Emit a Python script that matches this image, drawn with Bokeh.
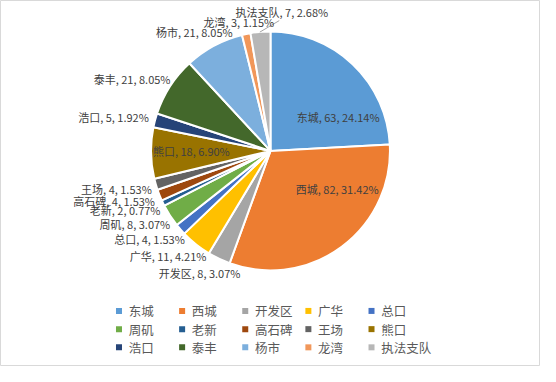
import math
from bokeh.plotting import figure
from bokeh.models import Range1d, ColumnDataSource
from bokeh.core.properties import value
from bokeh.embed import file_html
from bokeh.resources import INLINE

# ---- data ----
categories = ["东城", "西城", "开发区", "广华", "总口", "周矶", "老新", "高石碑",
              "王场", "熊口", "浩口", "泰丰", "杨市", "龙湾", "执法支队"]
counts = [63, 82, 8, 11, 4, 8, 2, 4, 4, 18, 5, 21, 21, 3, 7]
percents = ["24.14%", "31.42%", "3.07%", "4.21%", "1.53%", "3.07%", "0.77%", "1.53%",
            "1.53%", "6.90%", "1.92%", "8.05%", "8.05%", "1.15%", "2.68%"]
colors = ["#5B9BD5", "#ED7D31", "#A5A5A5", "#FFC000", "#4472C4", "#70AD47", "#255E91",
          "#9E480E", "#636363", "#997300", "#264478", "#43682B", "#7CAFDD", "#F1975A",
          "#B7B7B7"]

# ---- layout (reference pixel coordinates, scaled into the figure) ----
W, H = 540, 366
def Y(py):
    return 382 - py

cx, cy, R = 278, 157, 123
# label anchor (left x, center y)
label_pos = [(305, 122), (304, 197), (163, 284), (133, 267), (117, 249), (102, 233),
             (92, 219), (75, 209), (83, 197), (157, 157), (80, 122), (96, 82),
             (160, 33), (209, 22), (242, 12)]

p = figure(width=W, height=H, output_backend="svg", toolbar_location=None,
           x_range=Range1d(0, 556), y_range=Range1d(0, 382), min_border=0)
p.axis.visible = False
p.grid.visible = False
p.outline_line_color = "#D9D9D9"
p.background_fill_color = "white"
p.border_fill_color = "white"

total = sum(counts)
starts, ends = [], []
cum = 0
for c in counts:
    starts.append(math.pi / 2 - 2 * math.pi * cum / total)
    cum += c
    ends.append(math.pi / 2 - 2 * math.pi * cum / total)

src = ColumnDataSource(dict(x=[cx] * len(counts), y=[Y(cy)] * len(counts),
                            s=starts, e=ends, c=colors))
p.wedge(x="x", y="y", radius=R, start_angle="s", end_angle="e",
        direction="clock", fill_color="c", line_color="white", line_width=2, source=src)

# leader line for 执法支队
p.line(x=[267, 287], y=[Y(33), Y(21)], line_color="#A6A6A6", line_width=1)

labels = [f"{n}, {v}, {pc}" for n, v, pc in zip(categories, counts, percents)]
p.text(x=[q[0] for q in label_pos], y=[Y(q[1]) for q in label_pos], text=labels,
       text_font=value("Noto Sans CJK SC"), text_font_size="11px",
       text_color="#404040", text_align="left", text_baseline="middle")

# legend
col_x = [122, 187, 252, 317, 382]
row_y = [324, 343, 362]
lx, ly = [], []
for i in range(len(categories)):
    lx.append(col_x[i % 5])
    ly.append(row_y[i // 5])
p.rect(x=lx, y=[Y(v) for v in ly], width=6, height=6, width_units="screen",
       height_units="screen", fill_color=colors, line_color=None)
p.text(x=[v + 10 for v in lx], y=[Y(v) for v in ly], text=categories,
       text_font=value("Noto Sans CJK SC"), text_font_size="12.5px",
       text_color="#595959", text_align="left", text_baseline="middle")

open("out.html", "w").write(file_html(p, INLINE))
